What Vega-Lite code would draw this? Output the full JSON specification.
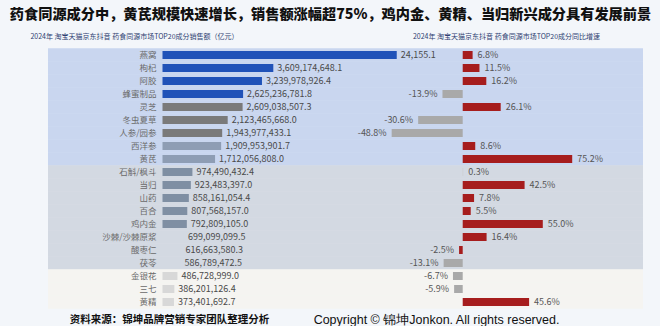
{
  "$schema": "https://vega.github.io/schema/vega-lite/v6.json",
  "width": 660,
  "height": 265,
  "autosize": "none",
  "padding": {"left": 0, "right": 0, "top": 46, "bottom": 15},
  "background": "#f3f6fa",
  "config": {"view": {"stroke": null}, "font": "Noto Sans CJK SC"},
  "data": {"values": [
    {"name": "燕窝", "sales": 7630000000, "label": "24,155.1", "tier": "blue", "bg": "top", "growth": 0.068, "gtext": "6.8%", "gtone": "red"},
    {"name": "枸杞", "sales": 3609174648.1, "label": "3,609,174,648.1", "tier": "blue", "bg": "top", "growth": 0.115, "gtext": "11.5%", "gtone": "red"},
    {"name": "阿胶", "sales": 3239978926.4, "label": "3,239,978,926.4", "tier": "blue", "bg": "top", "growth": 0.162, "gtext": "16.2%", "gtone": "red"},
    {"name": "蜂蜜制品", "sales": 2625236781.8, "label": "2,625,236,781.8", "tier": "blue", "bg": "top", "growth": -0.139, "gtext": "-13.9%", "gtone": "grey"},
    {"name": "灵芝", "sales": 2609038507.3, "label": "2,609,038,507.3", "tier": "dark", "bg": "top", "growth": 0.261, "gtext": "26.1%", "gtone": "red"},
    {"name": "冬虫夏草", "sales": 2123465668.0, "label": "2,123,465,668.0", "tier": "dark", "bg": "top", "growth": -0.306, "gtext": "-30.6%", "gtone": "grey"},
    {"name": "人参/园参", "sales": 1943977433.1, "label": "1,943,977,433.1", "tier": "dark", "bg": "top", "growth": -0.488, "gtext": "-48.8%", "gtone": "grey"},
    {"name": "西洋参", "sales": 1909953901.7, "label": "1,909,953,901.7", "tier": "pale", "bg": "top", "growth": 0.086, "gtext": "8.6%", "gtone": "red"},
    {"name": "黄芪", "sales": 1712056808.0, "label": "1,712,056,808.0", "tier": "pale", "bg": "top", "growth": 0.752, "gtext": "75.2%", "gtone": "red"},
    {"name": "石斛/枫斗", "sales": 974490432.4, "label": "974,490,432.4", "tier": "slate", "bg": "mid", "growth": 0.003, "gtext": "0.3%", "gtone": "faint"},
    {"name": "当归", "sales": 923483397.0, "label": "923,483,397.0", "tier": "slate", "bg": "mid", "growth": 0.425, "gtext": "42.5%", "gtone": "red"},
    {"name": "山药", "sales": 858161054.4, "label": "858,161,054.4", "tier": "slate", "bg": "mid", "growth": 0.078, "gtext": "7.8%", "gtone": "red"},
    {"name": "百合", "sales": 807568157.0, "label": "807,568,157.0", "tier": "slate", "bg": "mid", "growth": 0.055, "gtext": "5.5%", "gtone": "red"},
    {"name": "鸡内金", "sales": 792809105.0, "label": "792,809,105.0", "tier": "slate", "bg": "mid", "growth": 0.550, "gtext": "55.0%", "gtone": "red"},
    {"name": "沙棘/沙棘原浆", "sales": 699099099.5, "label": "699,099,099.5", "tier": "hidden", "bg": "mid", "growth": 0.164, "gtext": "16.4%", "gtone": "red"},
    {"name": "酸枣仁", "sales": 616663580.3, "label": "616,663,580.3", "tier": "hidden", "bg": "mid", "growth": -0.025, "gtext": "-2.5%", "gtone": "red"},
    {"name": "茯苓", "sales": 586789472.5, "label": "586,789,472.5", "tier": "hidden", "bg": "mid", "growth": -0.131, "gtext": "-13.1%", "gtone": "grey"},
    {"name": "金银花", "sales": 486728999.0, "label": "486,728,999.0", "tier": "light", "bg": "bot", "growth": -0.067, "gtext": "-6.7%", "gtone": "grey"},
    {"name": "三七", "sales": 386201126.4, "label": "386,201,126.4", "tier": "light", "bg": "bot", "growth": -0.059, "gtext": "-5.9%", "gtone": "grey"},
    {"name": "黄精", "sales": 373401692.7, "label": "373,401,692.7", "tier": "light", "bg": "bot", "growth": 0.456, "gtext": "45.6%", "gtone": "red"}
  ]},
  "encoding": {
    "y": {"field": "name", "type": "nominal", "axis": null,
      "scale": {"domain": ["燕窝","枸杞","阿胶","蜂蜜制品","灵芝","冬虫夏草","人参/园参","西洋参","黄芪","石斛/枫斗","当归","山药","百合","鸡内金","沙棘/沙棘原浆","酸枣仁","茯苓","金银花","三七","黄精"], "paddingInner": 0, "paddingOuter": 0.1923}}
  },
  "layer": [
    {
      "mark": {"type": "bar", "size": 13.6},
      "encoding": {
        "x": {"datum": -3730000000, "type": "quantitative",
          "scale": {"domain": [-5293000000, 16205000000], "nice": false, "zero": false},
          "axis": {"orient": "top", "labels": false, "ticks": false, "domain": false, "grid": false,
            "title": "药食同源成分中，黄芪规模快速增长，销售额涨幅超75%，鸡内金、黄精、当归新兴成分具有发展前景",
            "titleX": 330, "titleY": -32, "titleBaseline": "middle", "titleAlign": "center",
            "titleFontSize": 14.2, "titleFontWeight": 900, "titleColor": "#111111", "titleFont": "Noto Sans CJK SC"}},
        "x2": {"datum": 15651000000},
        "color": {"field": "bg", "type": "nominal", "legend": null,
          "scale": {"domain": ["top","mid","bot"], "range": ["#c9d6ef","#d3d9e2","#f5f4f1"]}}
      }
    },
    {
      "mark": {"type": "bar", "size": 8},
      "encoding": {
        "x": {"field": "sales", "type": "quantitative",
          "scale": {"domain": [-5293000000, 16205000000], "nice": false, "zero": false},
          "axis": {"orient": "top", "labels": false, "ticks": false, "domain": false, "grid": false,
            "title": "2024年 淘宝天猫京东抖音 药食同源市场TOP20成分销售额（亿元）",
            "titleX": 134, "titleY": -10, "titleBaseline": "middle", "titleAlign": "center",
            "titleFontSize": 7, "titleFontWeight": "normal", "titleColor": "#2f3f72"}},
        "color": {"field": "tier", "type": "nominal", "legend": null,
          "scale": {"domain": ["blue","dark","pale","slate","hidden","light"], "range": ["#2052b8","#7a7a7a","#8e9db4","#7f8fa3","#d3d9e2","#d8d8d8"]}}
      }
    },
    {
      "mark": {"type": "text", "align": "right", "dx": -6, "fontSize": 8.5, "color": "#6a6a6a"},
      "encoding": {
        "x": {"datum": 0, "type": "quantitative",
          "scale": {"domain": [-5293000000, 16205000000], "nice": false, "zero": false}, "axis": null},
        "text": {"field": "name"}
      }
    },
    {
      "mark": {"type": "text", "align": "left", "dx": 4, "fontSize": 9, "color": "#4a4a4a"},
      "encoding": {
        "x": {"field": "sales", "type": "quantitative",
          "scale": {"domain": [-5293000000, 16205000000], "nice": false, "zero": false},
          "axis": {"orient": "bottom", "labels": false, "ticks": false, "domain": false, "grid": false,
            "title": "资料来源：锦坤品牌营销专家团队整理分析",
            "titleX": 169, "titleY": 8, "titleBaseline": "middle", "titleAlign": "center",
            "titleFontSize": 10.5, "titleFontWeight": 600, "titleColor": "#111111"}},
        "text": {"field": "label"}
      }
    },
    {
      "mark": {"type": "bar", "size": 8},
      "encoding": {
        "x": {"field": "growth", "type": "quantitative",
          "scale": {"domain": [-3.178, 1.355], "nice": false, "zero": false},
          "axis": {"orient": "top", "labels": false, "ticks": false, "domain": false, "grid": false,
            "title": "2024年 淘宝天猫京东抖音 药食同源市场TOP20成分同比增速",
            "titleX": 506, "titleY": -10, "titleBaseline": "middle", "titleAlign": "center",
            "titleFontSize": 7, "titleFontWeight": "normal", "titleColor": "#2f3f72"}},
        "color": {"field": "gtone", "type": "nominal", "legend": null,
          "scale": {"domain": ["red","grey","faint"], "range": ["#a61d1d","#a9a9a9","#c8c8c8"]}}
      }
    },
    {
      "transform": [{"filter": "datum.growth >= 0"}],
      "mark": {"type": "text", "align": "left", "dx": 5, "fontSize": 9, "color": "#555555"},
      "encoding": {
        "x": {"field": "growth", "type": "quantitative",
          "scale": {"domain": [-3.178, 1.355], "nice": false, "zero": false},
          "axis": {"orient": "bottom", "labels": false, "ticks": false, "domain": false, "grid": false,
            "title": "Copyright © 锦坤Jonkon. All rights reserved.",
            "titleX": 436, "titleY": 8, "titleBaseline": "middle", "titleAlign": "center",
            "titleFontSize": 12.5, "titleFontWeight": "normal", "titleColor": "#111111", "titleFont": "Liberation Sans"}},
        "text": {"field": "gtext"}
      }
    },
    {
      "transform": [{"filter": "datum.growth < 0"}],
      "mark": {"type": "text", "align": "right", "dx": -5, "fontSize": 9, "color": "#555555"},
      "encoding": {
        "x": {"field": "growth", "type": "quantitative",
          "scale": {"domain": [-3.178, 1.355], "nice": false, "zero": false}, "axis": null},
        "text": {"field": "gtext"}
      }
    }
  ],
  "resolve": {"scale": {"x": "independent", "color": "independent"}, "axis": {"x": "independent"}}
}
